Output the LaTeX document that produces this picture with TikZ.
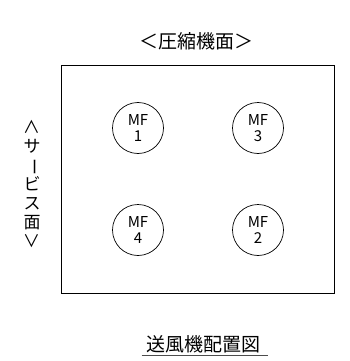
\documentclass[tikz,border=0pt]{standalone}
\usepackage{fontspec}
\newfontfamily\cjk{Noto Sans CJK JP}
\usetikzlibrary{positioning}

\tikzset{
  fan/.style={draw,circle,minimum size=51pt,inner sep=0pt,align=center,
    font=\cjk\fontsize{15}{16}\selectfont,line width=0.7pt},
  title/.style={font=\cjk\fontsize{19}{21}\selectfont,inner sep=1pt}
}

\begin{document}
\begin{tikzpicture}[x=1pt,y=-1pt,line width=0.8pt]
  \useasboundingbox (0,0) rectangle (350,361);
  % casing
  \node[draw,minimum width=273pt,minimum height=228pt,inner sep=0pt] (casing) at (197.5,179) {};
  % fans
  \node[fan] (mf1) at (138,128) {MF\\1};
  \node[fan] (mf3) at (258,128) {MF\\3};
  \node[fan] (mf4) at (138,230) {MF\\4};
  \node[fan] (mf2) at (258,230) {MF\\2};
  % labels
  \node[title] (compressor) at (196,41) {＜圧縮機面＞};
  \node[align=center,inner sep=0pt,font=\cjk\fontsize{17}{18.7}\selectfont] (service) at (32,184)
    {\rotatebox[origin=c]{-90}{＜}\\サ\\\rotatebox[origin=c]{-90}{ー}\\ビ\\ス\\面\\\rotatebox[origin=c]{-90}{＞}};
  \node[title,inner sep=2pt] (caption) at (203,344) {送風機配置図};
  \draw[line width=0.9pt,black!70] (caption.south west) ++(-2,0) -- ([xshift=6pt]caption.south east);
\end{tikzpicture}
\end{document}
